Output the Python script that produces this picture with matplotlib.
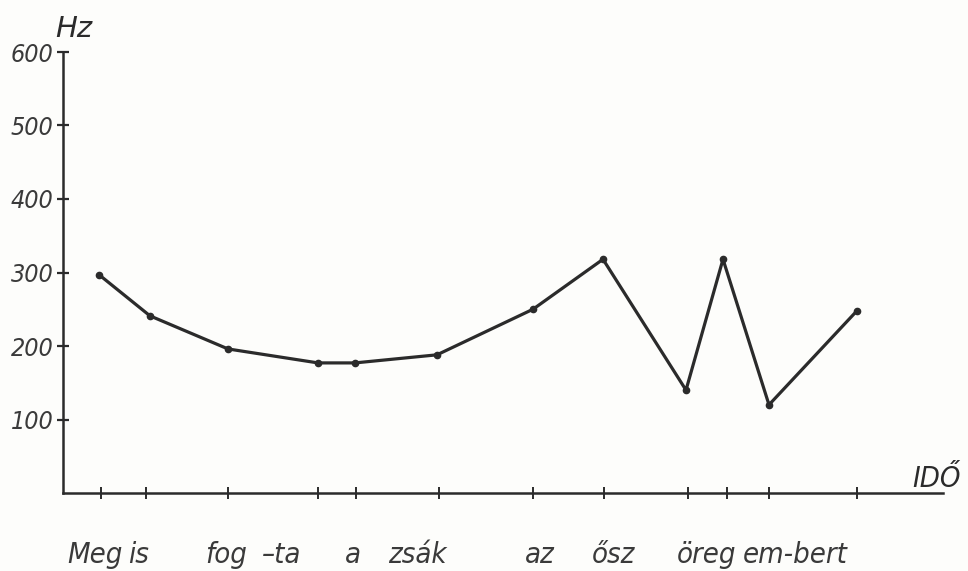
import matplotlib
matplotlib.use("Agg")
import matplotlib.pyplot as plt

# ---- data ----
point_time = [36, 87, 165, 255, 292, 374, 470, 540, 623, 660, 706, 794]
pitch_hz = [297, 241, 196, 177, 177, 188, 250, 318, 140, 318, 120, 248]
tick_time = [38, 83, 165, 255, 293, 376, 470, 541, 625, 664, 706, 794]
y_ticks = [100, 200, 300, 400, 500, 600]
words = ["Meg", "is", "fog", "\u2013ta", "a", "zsák", "az", "ősz", "öreg", "em-bert"]
word_left = [4, 65, 142, 199, 282, 325, 462, 529, 614, 680]

ink = "#2b2b2b"
fam = ["DejaVu Sans"]

fig = plt.figure(figsize=(9.68, 5.71), dpi=100, facecolor="#fdfdfb")
W, H = 968, 571
x0, x1 = 63, 943
y0, ytop = 493, 52
ax = fig.add_axes([x0 / W, (H - y0) / H, (x1 - x0) / W, (y0 - ytop) / H])
ax.set_facecolor("none")
ax.set_xlim(0, 880)
ax.set_ylim(0, 600)

ax.plot(point_time, pitch_hz, color=ink, lw=2.3, marker="o", ms=4.5,
        solid_joinstyle="round", zorder=3)

for s in ["top", "right"]:
    ax.spines[s].set_visible(False)
for s in ["left", "bottom"]:
    ax.spines[s].set_linewidth(1.8)
    ax.spines[s].set_color(ink)

ax.set_yticks(y_ticks)
ax.set_yticklabels([str(v) for v in y_ticks])
ax.tick_params(axis="y", direction="inout", length=8, width=1.6, color=ink,
               labelsize=18, labelcolor="#3a3a3a", pad=3)
for lab in ax.get_yticklabels():
    lab.set_fontstyle("italic")
    lab.set_fontstretch("condensed")
    lab.set_family(fam)

ax.set_xticks(tick_time)
ax.set_xticklabels([])
ax.tick_params(axis="x", direction="inout", length=9, width=1.4, color=ink)

# axis titles
fig.text(55 / W, 1 - 37 / H, "Hz", fontsize=21, style="italic", color=ink,
         family=fam, ha="left", va="baseline")
fig.text(912 / W, 1 - 487 / H, "IDŐ", fontsize=21, style="italic", color=ink,
         family=fam, ha="left", va="baseline", fontstretch="condensed")

# syllables below the axis
for w, xl in zip(words, word_left):
    ax.text(xl, -95, w, fontsize=21, style="italic", color="#3a3a3a",
            family=fam, ha="left", va="baseline", fontstretch="condensed",
            clip_on=False)

fig.savefig("out.png", dpi=100, facecolor=fig.get_facecolor())
